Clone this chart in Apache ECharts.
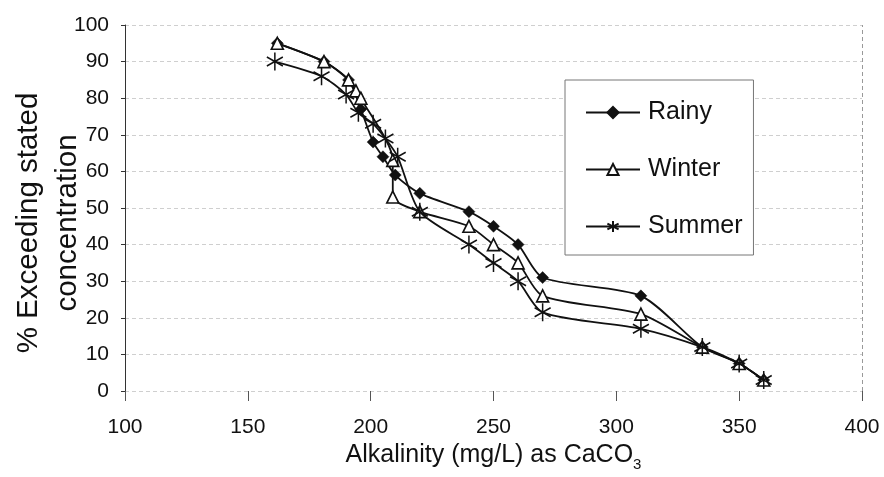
<!DOCTYPE html>
<html>
<head>
<meta charset="utf-8">
<script src="https://cdn.jsdelivr.net/npm/echarts@6/dist/echarts.min.js"></script>
<style>
  html, body { margin: 0; padding: 0; background: #fff; }
  #chart { width: 884px; height: 477px; }
</style>
</head>
<body>
<div id="chart"></div>
<script>
// Alkalinity (mg/L as CaCO3) vs. % of samples exceeding that concentration
const seasons = ['Rainy', 'Winter', 'Summer'];

const rainyX = [162, 181, 191, 196, 201, 205, 210, 220, 240, 250, 260, 270, 310, 335, 350, 360];
const rainyY = [95, 90, 85, 77, 68, 64, 59, 54, 49, 45, 40, 31, 26, 12, 7.5, 3];

const winterX = [162, 181, 191, 194, 196, 209, 209, 220, 240, 250, 260, 270, 310, 335, 350, 360];
const winterY = [95, 90, 85, 82, 80, 63, 53, 49, 45, 40, 35, 26, 21, 12, 7.5, 3];

const summerX = [161, 180, 190, 195, 201, 206, 211, 220, 240, 250, 260, 270, 310, 335, 350, 360];
const summerY = [90, 86, 81, 76, 73, 69, 64, 49, 40, 35, 30, 21.5, 17, 12, 7.5, 3];

const xTicks = [100, 150, 200, 250, 300, 350, 400];
const yTicks = [0, 10, 20, 30, 40, 50, 60, 70, 80, 90, 100];

const FONT = 'Liberation Sans, Arial, Helvetica, sans-serif';
const pairs = (xs, ys) => xs.map((x, i) => [x, ys[i]]);

// six-armed asterisk marker
const asterisk = 'path://M0,-10L0,10M-8.66,-5L8.66,5M-8.66,5L8.66,-5';

const chart = echarts.init(document.getElementById('chart'), null, { renderer: 'canvas' });

const lineStyle = { color: '#111', width: 1.8 };

chart.setOption({
  backgroundColor: '#ffffff',
  animation: false,
  textStyle: { fontFamily: FONT, color: '#111' },
  grid: { left: 125, right: 22, top: 25, bottom: 86, containLabel: false },
  legend: {
    data: seasons,
    orient: 'vertical',
    left: 565,
    top: 80,
    padding: [20, 11, 16, 20],
    itemGap: 32,
    itemWidth: 54,
    itemHeight: 14,
    borderColor: '#777',
    borderWidth: 1,
    backgroundColor: '#fff',
    textStyle: { fontFamily: FONT, fontSize: 25, lineHeight: 25, color: '#111', padding: [0, 0, 0, 3] }
  },
  xAxis: {
    type: 'value',
    min: xTicks[0],
    max: xTicks[xTicks.length - 1],
    interval: xTicks[1] - xTicks[0],
    axisLine: { show: false },
    axisTick: { show: true, length: 10, lineStyle: { color: '#555', width: 1 } },
    splitLine: { show: false },
    axisLabel: { fontSize: 21, margin: 26, color: '#111', fontFamily: FONT },
    name: '{t|Alkalinity (mg/L) as CaCO}{s|3}',
    nameLocation: 'middle',
    nameGap: 48,
    nameTextStyle: {
      rich: {
        t: { fontSize: 25, fontFamily: FONT, color: '#111', verticalAlign: 'bottom', lineHeight: 28 },
        s: { fontSize: 15, fontFamily: FONT, color: '#111', verticalAlign: 'bottom', lineHeight: 22, padding: [0, 0, -4, 0] }
      }
    }
  },
  yAxis: {
    type: 'value',
    min: yTicks[0],
    max: yTicks[yTicks.length - 1],
    interval: yTicks[1] - yTicks[0],
    axisLine: { show: true, lineStyle: { color: '#333', width: 1 } },
    axisTick: { show: true, length: 4, lineStyle: { color: '#333' } },
    splitLine: { show: true, lineStyle: { color: '#cfcfcf', type: [4, 3], width: 1 } },
    axisLabel: { fontSize: 21, margin: 16, color: '#111', fontFamily: FONT }
  },
  graphic: [{
    type: 'text',
    x: 48,
    y: 223,
    rotation: Math.PI / 2,
    style: {
      text: '% Exceeding stated\nconcentration',
      font: '29.5px ' + FONT,
      fill: '#111',
      align: 'center',
      verticalAlign: 'middle',
      lineHeight: 39
    }
  }],
  series: [
    {
      name: seasons[0],
      type: 'line',
      data: pairs(rainyX, rainyY),
      smooth: 0.25,
      symbol: 'diamond',
      symbolSize: 12,
      lineStyle: lineStyle,
      itemStyle: { color: '#111', borderColor: '#111', borderWidth: 0.5 },
      z: 2,
      markLine: {
        silent: true,
        symbol: 'none',
        label: { show: false },
        lineStyle: { color: '#999', type: [4, 3], width: 1 },
        data: [{ xAxis: xTicks[xTicks.length - 1] }]
      }
    },
    {
      name: seasons[1],
      type: 'line',
      data: pairs(winterX, winterY),
      smooth: 0.25,
      symbol: 'triangle',
      symbolSize: 12,
      lineStyle: lineStyle,
      itemStyle: { color: '#fff', borderColor: '#111', borderWidth: 1.6 },
      z: 3
    },
    {
      name: seasons[2],
      type: 'line',
      data: pairs(summerX, summerY),
      smooth: 0.25,
      symbol: asterisk,
      symbolSize: [16, 18],
      lineStyle: lineStyle,
      itemStyle: { color: 'rgba(0,0,0,0)', borderColor: '#111', borderWidth: 1.6 },
      z: 4
    }
  ]
});
</script>
</body>
</html>
